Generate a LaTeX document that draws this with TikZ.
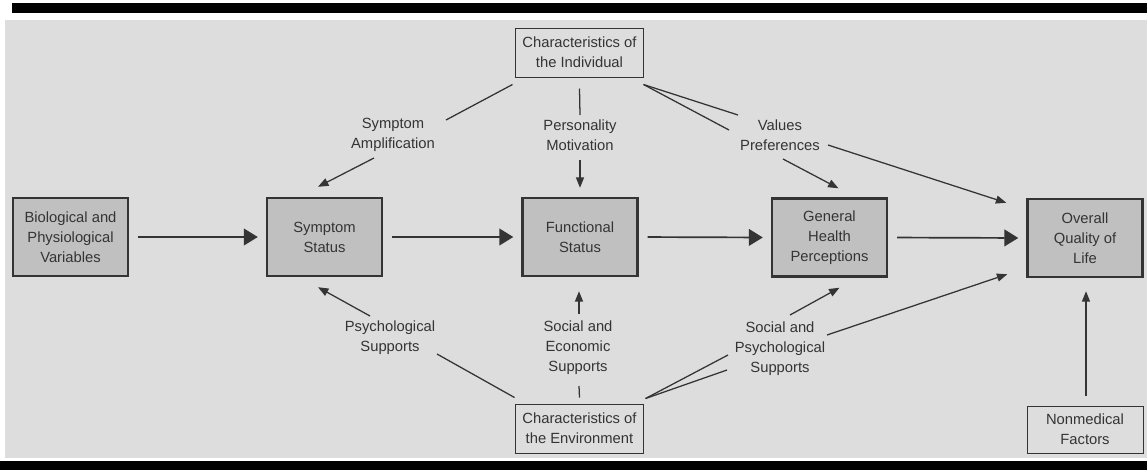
\documentclass[tikz,border=0pt]{standalone}
\usepackage{fontspec}
\setmainfont{Liberation Sans}
\usepackage{tikz}
\usetikzlibrary{shapes,positioning,calc}
\usetikzlibrary{arrows.meta}
\definecolor{paper}{RGB}{221,221,221}
\definecolor{boxgray}{RGB}{192,192,192}
\definecolor{ink}{RGB}{52,52,52}
\tikzstyle{outcome} = [rectangle, minimum width=2.875cm, minimum height=1.95cm, text centered, align=center, draw=ink, line width=1.7pt, fill=boxgray]
\tikzstyle{factor} = [rectangle, minimum width=3.175cm, minimum height=1.225cm, text centered, align=center, draw=ink, line width=0.7pt]
\tikzstyle{lbl} = [align=center, inner sep=0pt]
\tikzstyle{link} = [ink, line width=0.9pt]
\tikzstyle{arrow} = [ink, line width=0.9pt, -{Triangle[length=0.26cm,width=0.2cm]}]
\tikzstyle{bigarrow} = [ink, line width=1.2pt, -{Triangle[length=0.35cm,width=0.42cm]}]
\begin{document}
\begin{tikzpicture}[x=0.025cm, y=-0.025cm, font=\fontsize{10.5}{14.2}\selectfont, text=ink]
\useasboundingbox (0,0) rectangle (1147,470);
\fill[white] (0,0) rectangle (1147,470);
\fill[paper] (5,20) rectangle (1147,458);
\fill[black] (12,3) rectangle (1147,13);
\fill[black] (0,461) rectangle (1147,470);

% boxes
\node (bio) at (70.5,237) [outcome] {Biological and\\Physiological\\Variables};
\node (sym) at (324.5,237) [outcome] {Symptom\\Status};
\node (func) at (580,237) [outcome] {Functional\\Status};
\node (gen) at (829.5,237.5) [outcome] {General\\Health\\Perceptions};
\node (qol) at (1085,238) [outcome] {Overall\\Quality of\\Life};
\node (indiv) at (579.5,52.5) [factor] {Characteristics of\\the Individual};
\node (env) at (579.5,428.5) [factor] {Characteristics of\\the Environment};
\node (nonmed) at (1085,429.5) [factor, minimum width=2.9cm, minimum height=1.175cm] {Nonmedical\\Factors};

% labels
\node (amp) at (393,135) [lbl] {Symptom\\Amplification};
\node (pers) at (580,135) [lbl] {Personality\\Motivation};
\node (vals) at (780,135) [lbl] {Values\\Preferences};
\node (psy) at (390,338) [lbl] {Psychological\\Supports};
\node (soc) at (578,348) [lbl] {Social and\\Economic\\Supports};
\node (socpsy) at (780,349) [lbl] {Social and\\Psychological\\Supports};

% main chain
\draw[bigarrow, shorten <=0.22cm, shorten >=0.2cm] (bio.east) -- (sym.west);
\draw[bigarrow, shorten <=0.22cm, shorten >=0.2cm] (sym.east) -- (func.west);
\draw[bigarrow, shorten <=0.22cm, shorten >=0.2cm] (func.east) -- (gen.west);
\draw[bigarrow, shorten <=0.22cm, shorten >=0.2cm] (gen.east) -- (qol.west);

% individual
\draw[link] ($(indiv.south west)+(-3,7)$) -- ($(amp)+(53,-15)$);
\draw[arrow] ($(amp)+(-19,23)$) -- ($(sym.north)+(-6.5,-10)$);
\draw[link] ($(indiv.south)+(0,11)$) -- ($(pers)+(0,-20)$);
\draw[arrow] ($(pers)+(0,25)$) -- ($(func.north)+(0,-9)$);
\draw[link] ($(indiv.south east)+(0,7)$) -- ($(vals)+(-42,-20)$);
\draw[link] ($(indiv.south east)+(0,7)$) -- ($(vals)+(-51,-5)$);
\draw[arrow] ($(vals)+(48,10)$) -- ($(qol.north west)+(-20,5)$);
\draw[arrow] ($(vals)+(3,24)$) -- ($(gen.north)+(9,-9)$);

% environment
\draw[arrow] ($(psy)+(-20,-22)$) -- ($(sym.south)+(-6.5,10)$);
\draw[link] ($(env.north west)+(-1,-6)$) -- ($(psy)+(47,16)$);
\draw[arrow] ($(soc)+(1,-34)$) -- ($(func.south)+(-1,14)$);
\draw[link] ($(env.north)+(0,-6)$) -- ($(soc)+(1,38)$);
\draw[arrow] ($(socpsy)+(10,-34)$) -- ($(gen.south)+(10,10)$);
\draw[link] ($(env.north east)+(2,-5)$) -- ($(socpsy)+(-52,6)$);
\draw[link] ($(env.north east)+(2,-5)$) -- ($(socpsy)+(-53,21)$);
\draw[arrow] ($(socpsy)+(47,-14)$) -- ($(qol.south west)+(-19,-4)$);
\draw[arrow] ($(nonmed.north)+(1,-10)$) -- ($(qol.south)+(1,13)$);
\end{tikzpicture}
\end{document}
